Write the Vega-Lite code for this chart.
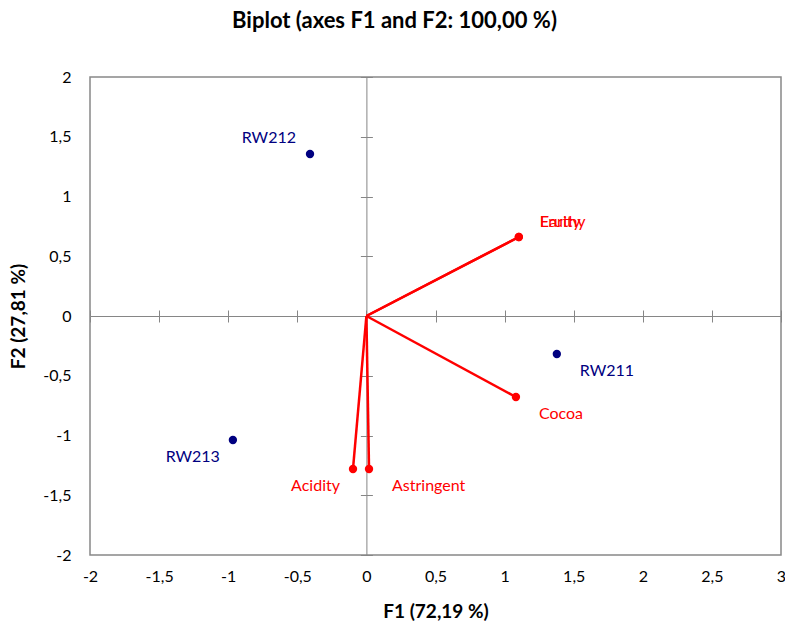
{
  "$schema": "https://vega.github.io/schema/vega-lite/v6.json",
  "width": 691,
  "height": 478,
  "autosize": "none",
  "padding": {"left": 90, "top": 77, "right": 4, "bottom": 68},
  "background": "white",
  "title": {
    "text": "Biplot (axes F1 and F2: 100,00 %)",
    "font": "Lato",
    "fontSize": 22,
    "fontWeight": "bold",
    "color": "#000000",
    "anchor": "middle",
    "dx": -41,
    "offset": 36
  },
  "config": {
    "view": {"stroke": "#888888", "strokeWidth": 1.5},
    "font": "Lato",
    "axis": {"grid": false, "labelFont": "Lato", "titleFont": "Lato"}
  },
  "datasets": {
    "biplot": [
      {"name": "RW211", "x": 1.378, "y": -0.318, "type": "Observations"},
      {"name": "RW212", "x": -0.408, "y": 1.356, "type": "Observations"},
      {"name": "RW213", "x": -0.966, "y": -1.038, "type": "Observations"},
      {"name": "Fruity", "x": 1.103, "y": 0.661, "type": "Variables"},
      {"name": "Earthy", "x": 1.103, "y": 0.661, "type": "Variables"},
      {"name": "Cocoa", "x": 1.082, "y": -0.678, "type": "Variables"},
      {"name": "Acidity", "x": -0.097, "y": -1.28, "type": "Variables"},
      {"name": "Astringent", "x": 0.019, "y": -1.28, "type": "Variables"}
    ]
  },
  "data": {"name": "biplot"},
  "resolve": {"axis": {"x": "independent", "y": "independent"}},
  "layer": [
    {
      "transform": [{"filter": "datum.type === 'Variables'"}],
      "mark": {"type": "rule", "color": "#FF0000", "strokeWidth": 2.5},
      "encoding": {
        "x": {
          "field": "x", "type": "quantitative",
          "scale": {"domain": [-2, 3], "nice": false, "zero": false},
          "axis": {
            "orient": "bottom", "values": [-2, -1.5, -1, -0.5, 0, 0.5, 1, 1.5, 2, 2.5, 3],
            "labelExpr": "replace(toString(datum.value), '.', ',')",
            "ticks": false, "domain": false, "labelPadding": 13, "labelFontSize": 16,
            "labelColor": "#000000", "labelFlush": false,
            "title": "F1 (72,19 %)", "titleFontSize": 19, "titleFontWeight": "bold",
            "titleColor": "#000000", "titlePadding": 18
          }
        },
        "y": {
          "field": "y", "type": "quantitative",
          "scale": {"domain": [-2, 2], "nice": false, "zero": false},
          "axis": {
            "orient": "left", "values": [-2, -1.5, -1, -0.5, 0, 0.5, 1, 1.5, 2],
            "labelExpr": "replace(toString(datum.value), '.', ',')",
            "ticks": false, "domain": false, "labelPadding": 19, "labelFontSize": 16,
            "labelColor": "#000000", "labelFlush": false,
            "title": "F2 (27,81 %)", "titleFontSize": 19, "titleFontWeight": "bold",
            "titleColor": "#000000", "titlePadding": 14
          }
        },
        "x2": {"datum": 0},
        "y2": {"datum": 0}
      }
    },
    {
      "mark": {"type": "circle", "size": 70, "opacity": 1},
      "encoding": {
        "x": {
          "field": "x", "type": "quantitative",
          "axis": {
            "orient": "bottom", "offset": -239, "labels": false, "title": null,
            "values": [-2, -1.5, -1, -0.5, 0, 0.5, 1, 1.5, 2, 2.5, 3],
            "tickSize": 6, "tickColor": "#868686", "domainColor": "#868686", "domainWidth": 1
          }
        },
        "y": {
          "field": "y", "type": "quantitative",
          "axis": {
            "orient": "left", "offset": -276.4, "labels": false, "title": null,
            "values": [-2, -1.5, -1, -0.5, 0, 0.5, 1, 1.5, 2],
            "tickSize": 6, "tickColor": "#868686", "domainColor": "#868686", "domainWidth": 1
          }
        },
        "color": {
          "field": "type", "type": "nominal",
          "scale": {"domain": ["Observations", "Variables"], "range": ["#000080", "#FF0000"]},
          "legend": null
        }
      }
    },
    {
      "transform": [{"filter": "datum.x < 0 && datum.y >= 0"}],
      "mark": {"type": "text", "align": "right", "baseline": "middle", "dx": -14, "dy": -16, "fontSize": 16},
      "encoding": {
        "x": {
          "field": "x", "type": "quantitative",
          "axis": {
            "orient": "top", "offset": -239, "labels": false, "title": null, "domain": false,
            "values": [-2, -1.5, -1, -0.5, 0, 0.5, 1, 1.5, 2, 2.5, 3],
            "tickSize": 6, "tickColor": "#868686"
          }
        },
        "y": {
          "field": "y", "type": "quantitative",
          "axis": {
            "orient": "right", "offset": -414.6, "labels": false, "title": null, "domain": false,
            "values": [-2, -1.5, -1, -0.5, 0, 0.5, 1, 1.5, 2],
            "tickSize": 6, "tickColor": "#868686"
          }
        },
        "text": {"field": "name"},
        "color": {"field": "type", "type": "nominal", "legend": null}
      }
    },
    {
      "transform": [{"filter": "datum.x < 0 && datum.y < 0"}],
      "mark": {"type": "text", "align": "right", "baseline": "middle", "dx": -13, "dy": 17, "fontSize": 16},
      "encoding": {
        "x": {"field": "x", "type": "quantitative", "axis": null},
        "y": {"field": "y", "type": "quantitative", "axis": null},
        "text": {"field": "name"},
        "color": {"field": "type", "type": "nominal", "legend": null}
      }
    },
    {
      "transform": [{"filter": "datum.x >= 0 && datum.y < 0"}],
      "mark": {"type": "text", "align": "left", "baseline": "middle", "dx": 23, "dy": 17, "fontSize": 16},
      "encoding": {
        "x": {"field": "x", "type": "quantitative", "axis": null},
        "y": {"field": "y", "type": "quantitative", "axis": null},
        "text": {"field": "name"},
        "color": {"field": "type", "type": "nominal", "legend": null}
      }
    },
    {
      "transform": [{"filter": "datum.x >= 0 && datum.y >= 0"}],
      "mark": {"type": "text", "align": "left", "baseline": "middle", "dx": 21, "dy": -15, "fontSize": 16},
      "encoding": {
        "x": {"field": "x", "type": "quantitative", "axis": null},
        "y": {"field": "y", "type": "quantitative", "axis": null},
        "text": {"field": "name"},
        "color": {"field": "type", "type": "nominal", "legend": null}
      }
    }
  ]
}
